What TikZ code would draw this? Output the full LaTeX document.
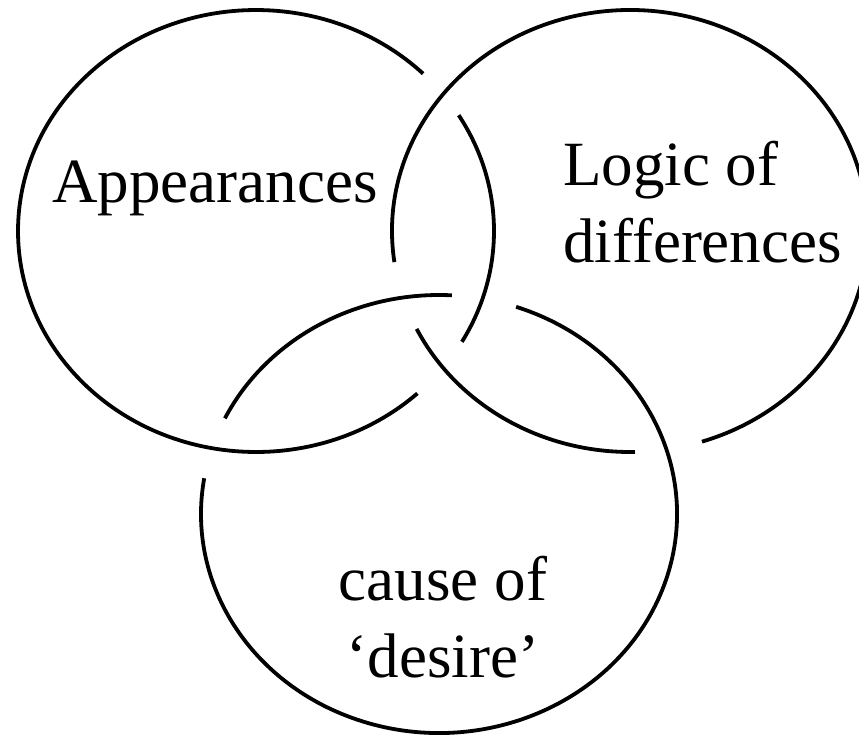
\documentclass[tikz,border=0pt]{standalone}
\usepackage{fontspec}
\setmainfont{Liberation Serif}
\begin{document}
\begin{tikzpicture}[x=1pt,y=-1pt,
  ring/.style={line width=3.8pt, line cap=butt},
  lbl/.style={font=\fontsize{63}{77}\selectfont, inner sep=0pt}]
\useasboundingbox (0,0) rectangle (859,736);
\coordinate (Lc) at (256,231);
\coordinate (Rc) at (630,231);
\coordinate (Bc) at (439,514);
% left ring (under the right ring)
\draw[ring] (Lc) ++(47.3:238 and 221) arc[start angle=47.3, end angle=314.6, x radius=238, y radius=221];
\draw[ring] (Lc) ++(-31.6:238 and 221) arc[start angle=-31.6, end angle=30.1, x radius=238, y radius=221];
% right ring (under the bottom ring)
\draw[ring] (Rc) ++(171.9:238 and 221) arc[start angle=171.9, end angle=432.4, x radius=238, y radius=221];
\draw[ring] (Rc) ++(88.8:238 and 221) arc[start angle=88.8, end angle=153.7, x radius=238, y radius=221];
% bottom ring (under the left ring)
\draw[ring] (Bc) ++(288.9:238 and 219) arc[start angle=288.9, end angle=549.4, x radius=238, y radius=219];
\draw[ring] (Bc) ++(205.9:238 and 219) arc[start angle=205.9, end angle=273.1, x radius=238, y radius=219];
% labels
\node[lbl, anchor=base west] (app) at (52,202) {Appearances};
\node[lbl, anchor=base west, align=left] (logic) at (563,262) {Logic of\\differences};
\node[lbl, anchor=base, align=center] (cause) at (443,677) {cause of\\‘desire’};
\end{tikzpicture}
\end{document}
